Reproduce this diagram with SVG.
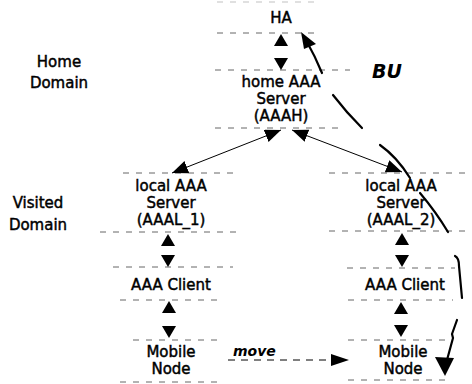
<svg xmlns="http://www.w3.org/2000/svg" width="472" height="384" viewBox="0 0 472 384">
  <style>
    .lbl { font-family: "DejaVu Sans", "Liberation Sans", sans-serif; font-size: 15px; fill: #000; stroke: #000; stroke-width: 0.45; text-anchor: middle; }
    .dom { font-family: "DejaVu Sans", "Liberation Sans", sans-serif; font-size: 15px; fill: #000; stroke: #000; stroke-width: 0.45; text-anchor: middle; }
    .edge { stroke: #666; stroke-width: 1; stroke-dasharray: 6 7; fill: none; }
    .gap { stroke: none; fill: none; marker-start: url(#tri); marker-end: url(#tri); }
    .link { stroke: #000; stroke-width: 1; fill: none; marker-start: url(#tri2); marker-end: url(#tri2); }
    .bu { stroke: #000; stroke-width: 2.2; fill: none; stroke-linecap: round; stroke-linejoin: round; }
    .it { font-family: "DejaVu Sans", sans-serif; font-weight: bold; font-style: italic; fill: #000; }
  </style>
  <defs>
    <marker id="tri" markerUnits="userSpaceOnUse" markerWidth="14" markerHeight="14" viewBox="0 0 12 14" refX="12" refY="7" orient="auto-start-reverse">
      <path d="M0,0 L12,7 L0,14 Z" fill="#000"/>
    </marker>
    <marker id="tri2" markerUnits="userSpaceOnUse" markerWidth="16" markerHeight="13" viewBox="0 0 16 13" refX="16" refY="6.5" orient="auto-start-reverse">
      <path d="M0,0 L16,6.5 L0,13 Z" fill="#000"/>
    </marker>
  </defs>

  <!-- domain captions -->
  <g id="home-domain">
    <text class="dom" x="59" y="67">Home</text>
    <text class="dom" x="59" y="88">Domain</text>
  </g>
  <g id="visited-domain">
    <text class="dom" x="38" y="208">Visited</text>
    <text class="dom" x="38" y="230">Domain</text>
  </g>

  <!-- nodes: each box shows only its dashed top and bottom edges -->
  <g id="ha">
    <line class="edge" x1="217" y1="2" x2="317" y2="2" stroke-opacity="0.4"/>
    <line class="edge" x1="217" y1="33" x2="317" y2="33"/>
    <text class="lbl" x="281" y="23">HA</text>
  </g>
  <g id="aaah">
    <line class="edge" x1="215" y1="70" x2="350" y2="70"/>
    <line class="edge" x1="215" y1="128" x2="345" y2="128"/>
    <text class="lbl" x="281" y="87">home AAA</text>
    <text class="lbl" x="281" y="104">Server</text>
    <text class="lbl" x="281" y="121">(AAAH)</text>
  </g>
  <g id="aaal1">
    <line class="edge" x1="123" y1="173" x2="240" y2="173"/>
    <line class="edge" x1="100" y1="232" x2="242" y2="232"/>
    <text class="lbl" x="171" y="191">local AAA</text>
    <text class="lbl" x="171" y="208">Server</text>
    <text class="lbl" x="171" y="225">(AAAL_1)</text>
  </g>
  <g id="aaal2">
    <line class="edge" x1="329" y1="173" x2="470" y2="173"/>
    <line class="edge" x1="329" y1="231" x2="470" y2="231"/>
    <text class="lbl" x="401" y="191">local AAA</text>
    <text class="lbl" x="401" y="208">Server</text>
    <text class="lbl" x="401" y="225">(AAAL_2)</text>
  </g>
  <g id="client1">
    <line class="edge" x1="113" y1="267" x2="233" y2="267"/>
    <line class="edge" x1="120" y1="300" x2="223" y2="300"/>
    <text class="lbl" x="171" y="290">AAA Client</text>
  </g>
  <g id="client2">
    <line class="edge" x1="347" y1="268" x2="455" y2="268"/>
    <line class="edge" x1="348" y1="300" x2="453" y2="300"/>
    <text class="lbl" x="405" y="290">AAA Client</text>
  </g>
  <g id="mn1">
    <line class="edge" x1="133" y1="340" x2="223" y2="340"/>
    <line class="edge" x1="120" y1="382" x2="223" y2="382"/>
    <text class="lbl" x="171" y="357">Mobile</text>
    <text class="lbl" x="171" y="374">Node</text>
  </g>
  <g id="mn2">
    <line class="edge" x1="348" y1="340" x2="452" y2="340"/>
    <line class="edge" x1="348" y1="380" x2="452" y2="380"/>
    <text class="lbl" x="403" y="357">Mobile</text>
    <text class="lbl" x="403" y="374">Node</text>
  </g>

  <!-- connectors -->
  <g id="connectors">
    <path class="gap" d="M281,34 L281,70"/>
    <path class="gap" d="M168,234 L168,267"/>
    <path class="gap" d="M169,301 L169,338"/>
    <path class="gap" d="M402,233 L402,267"/>
    <path class="gap" d="M401,302 L401,337"/>
    <path class="link" d="M172,173 L281,130"/>
    <path class="link" d="M292,130 L402,172"/>
    <!-- move -->
    <path d="M228,360 L334,360" stroke="#000" stroke-width="1" stroke-dasharray="7 6" fill="none"/>
    <path d="M331,354 L349,360 L331,366 Z" fill="#000"/>
    <!-- BU signalling path, hand-drawn strokes -->
    <path class="bu" d="M322,73 Q315,56 307,42"/>
    <path d="M301,32 L316,44 L304,49 Z" fill="#000"/>
    <path class="bu" d="M333,95 Q346,112 362,128"/>
    <path class="bu" d="M380,145 Q397,157 410,178"/>
    <path class="bu" d="M420,193 Q436,212 448,232"/>
    <path class="bu" d="M455,256 Q459,258 459,266 L462,298"/>
    <path class="bu" d="M457,320 L452,334 L453,338 L447,360"/>
    <path d="M435,357 L454,358 L445,376 Z" fill="#000"/>
  </g>

  <text class="it" x="372" y="78" font-size="19">BU</text>
  <text class="it" x="233" y="356" font-size="14">move</text>
</svg>
